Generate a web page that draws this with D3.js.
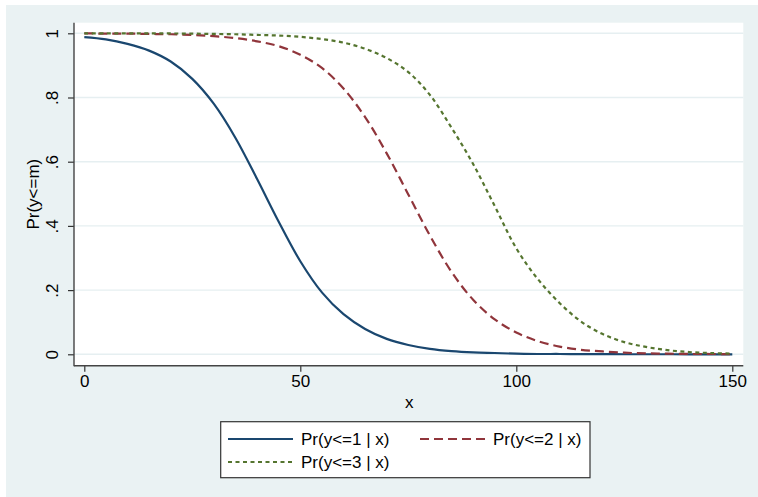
<!DOCTYPE html>
<html>
<head>
<meta charset="utf-8">
<script src="https://cdn.jsdelivr.net/npm/d3@7/dist/d3.min.js"></script>
<style>
  html, body { margin: 0; padding: 0; background: #ffffff; }
  svg { display: block; }
  text { font-family: "Liberation Sans", Arial, Helvetica, sans-serif; fill: #000; }
</style>
</head>
<body>
<svg id="chart" width="758" height="497"></svg>
<script>
// Cumulative predicted probabilities from an ordered model, evaluated on a grid of x
const xValues = [0, 5, 10, 15, 20, 25, 30, 35, 40, 45, 50, 55, 60, 65, 70, 75,
                 80, 85, 90, 95, 100, 105, 110, 115, 120, 125, 130, 135, 140, 145, 150];

const prLe1 = [0.988, 0.981, 0.967, 0.946, 0.912, 0.858, 0.780, 0.674, 0.546, 0.413,
               0.290, 0.193, 0.125, 0.079, 0.048, 0.029, 0.017, 0.010, 0.006, 0.004,
               0.002, 0.001, 0.001, 0.0005, 0.0003, 0.0002, 0.0001, 0.0001, 0.0, 0.0, 0.0];

const prLe2 = [1.000, 0.999, 0.999, 0.998, 0.997, 0.995, 0.991, 0.985, 0.975, 0.960,
               0.933, 0.892, 0.828, 0.739, 0.626, 0.498, 0.370, 0.257, 0.170, 0.109,
               0.068, 0.041, 0.024, 0.014, 0.009, 0.005, 0.003, 0.002, 0.001, 0.001, 0.0005];

const prLe3 = [1.000, 1.000, 1.000, 1.000, 0.9995, 0.999, 0.998, 0.997, 0.995, 0.993,
               0.989, 0.982, 0.971, 0.952, 0.923, 0.879, 0.808, 0.706, 0.593, 0.462,
               0.330, 0.234, 0.160, 0.102, 0.063, 0.038, 0.023, 0.013, 0.007, 0.004, 0.002];

const seriesLabels = ["Pr(y<=1 | x)", "Pr(y<=2 | x)", "Pr(y<=3 | x)"];
const xTicks = [0, 50, 100, 150];
const yTicks = [0, 0.2, 0.4, 0.6, 0.8, 1];
const yTickLabels = ["0", ".2", ".4", ".6", ".8", "1"];
const xTitle = "x";
const yTitle = "Pr(y<=m)";

// Stata s2color palette
const colors = ["#1a476f", "#90353b", "#55752f"];
const dashes = [null, "9,5", "4,3.5"];

const svg = d3.select("#chart");
const W = 758, H = 497;

// outer graph region
svg.append("rect").attr("x", 6).attr("y", 5).attr("width", W - 6).attr("height", H - 5)
  .attr("fill", "#eaf2f3");

// plot region
const frame = { left: 74, right: 743.3, top: 22.7, bottom: 365.7 };
svg.append("rect")
  .attr("x", frame.left).attr("y", frame.top)
  .attr("width", frame.right - frame.left).attr("height", frame.bottom - frame.top)
  .attr("fill", "#ffffff");

const x = d3.scaleLinear().domain([0, 150]).range([84.3, 732.3]);
const y = d3.scaleLinear().domain([0, 1]).range([354.3, 33.3]);

// horizontal grid lines
svg.append("g").selectAll("line").data(yTicks).join("line")
  .attr("x1", frame.left).attr("x2", frame.right)
  .attr("y1", d => y(d)).attr("y2", d => y(d))
  .attr("stroke", "#e6eff1").attr("stroke-width", 1.4);

// series
const series = [prLe1, prLe2, prLe3];
const line = d3.line()
  .x(d => x(d[0]))
  .y(d => y(d[1]))
  .curve(d3.curveCatmullRom.alpha(0.5));

series.forEach((vals, i) => {
  const pts = xValues.map((xv, j) => [xv, vals[j]]);
  svg.append("path")
    .datum(pts)
    .attr("d", line)
    .attr("fill", "none")
    .attr("stroke", colors[i])
    .attr("stroke-width", 2.2)
    .attr("stroke-dasharray", dashes[i])
    .attr("stroke-linejoin", "round");
});

// axes
const yAxis = d3.axisLeft(y).tickValues(yTicks)
  .tickFormat((d, i) => yTickLabels[i]).tickSize(6).tickPadding(4);
const gy = svg.append("g").attr("transform", `translate(${frame.left},0)`).call(yAxis);
gy.select(".domain").remove();
gy.selectAll(".tick line").attr("stroke", "#333").attr("stroke-width", 1.2);
gy.selectAll(".tick text")
  .attr("font-size", 17)
  .attr("font-family", "Liberation Sans, Arial, sans-serif")
  .attr("text-anchor", "middle")
  .attr("x", 0).attr("dy", 0)
  .attr("transform", "translate(-22,0) rotate(-90)")
  .attr("dominant-baseline", "central")
  .attr("fill", "#000");

const xAxis = d3.axisBottom(x).tickValues(xTicks).tickFormat(d3.format("d")).tickSize(6).tickPadding(3);
const gx = svg.append("g").attr("transform", `translate(0,${frame.bottom})`).call(xAxis);
gx.select(".domain").remove();
gx.selectAll(".tick line").attr("stroke", "#333").attr("stroke-width", 1.2);
gx.selectAll(".tick text")
  .attr("font-size", 17)
  .attr("font-family", "Liberation Sans, Arial, sans-serif")
  .attr("fill", "#000");

// axis lines spanning the plot region
svg.append("line")
  .attr("x1", frame.left).attr("x2", frame.left)
  .attr("y1", frame.top).attr("y2", frame.bottom + 0.6)
  .attr("stroke", "#444").attr("stroke-width", 1.4);
svg.append("line")
  .attr("x1", frame.left).attr("x2", frame.right)
  .attr("y1", frame.bottom).attr("y2", frame.bottom)
  .attr("stroke", "#444").attr("stroke-width", 1.4);

// axis titles
svg.append("text")
  .attr("x", (frame.left + frame.right) / 2 + 0.5)
  .attr("y", 402)
  .attr("text-anchor", "middle")
  .attr("dominant-baseline", "central")
  .attr("font-size", 17)
  .text(xTitle);

svg.append("text")
  .attr("transform", `translate(33,${(frame.top + frame.bottom) / 2}) rotate(-90)`)
  .attr("text-anchor", "middle")
  .attr("dominant-baseline", "central")
  .attr("font-size", 17)
  .text(yTitle);

// legend
const legend = svg.append("g");
legend.append("rect")
  .attr("x", 220.7).attr("y", 421.7)
  .attr("width", 369.3).attr("height", 56)
  .attr("fill", "#ffffff").attr("stroke", "#333").attr("stroke-width", 1.2);

const legendPos = [
  { kx: 228, ty: 439 },
  { kx: 420, ty: 439 },
  { kx: 228, ty: 462 }
];
seriesLabels.forEach((lab, i) => {
  const p = legendPos[i];
  legend.append("line")
    .attr("x1", p.kx).attr("x2", p.kx + 65)
    .attr("y1", p.ty).attr("y2", p.ty)
    .attr("stroke", colors[i]).attr("stroke-width", 2.2)
    .attr("stroke-dasharray", dashes[i]);
  legend.append("text")
    .attr("x", p.kx + 73).attr("y", p.ty)
    .attr("dominant-baseline", "central")
    .attr("font-size", 17)
    .text(lab);
});
</script>
</body>
</html>
